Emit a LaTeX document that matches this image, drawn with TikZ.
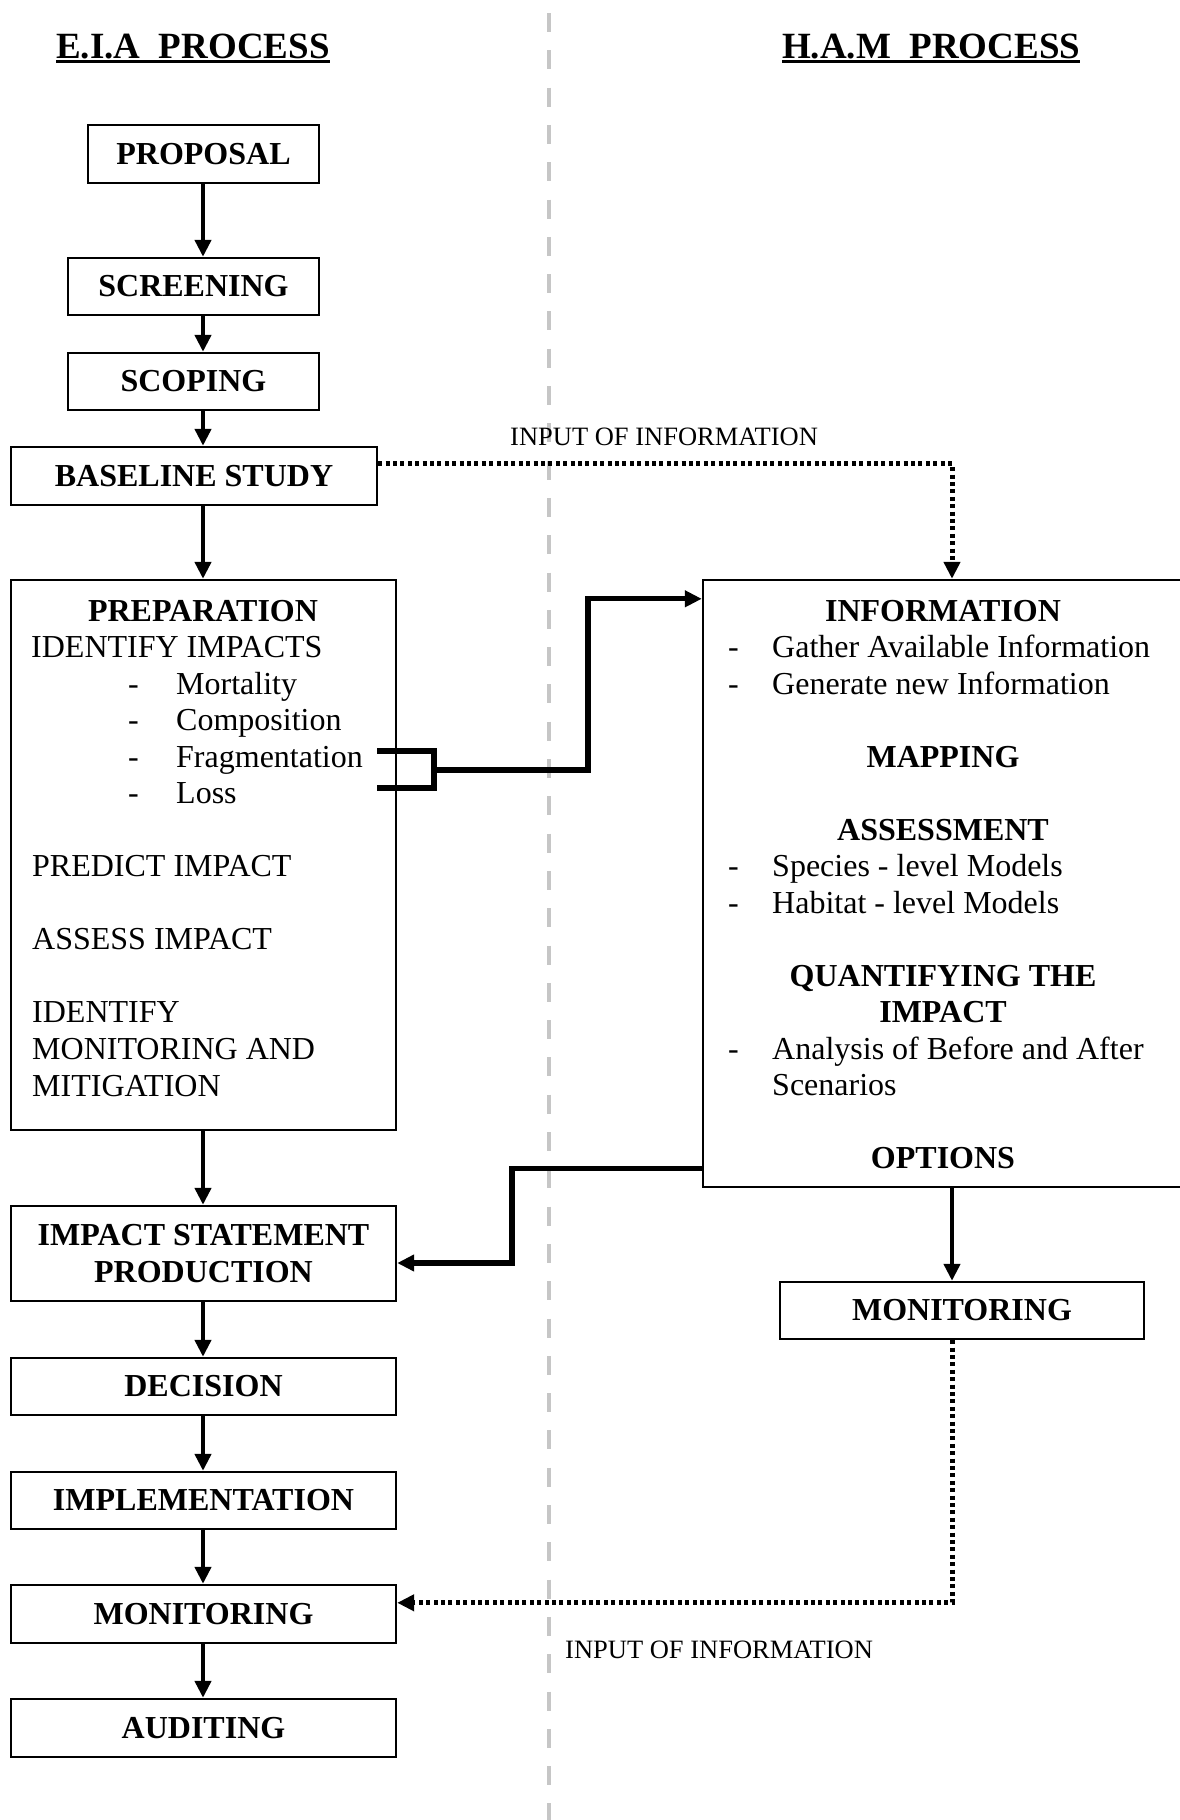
\documentclass[tikz,border=0pt]{standalone}
\usepackage{fontspec}
\setmainfont{Liberation Serif}
\usetikzlibrary{arrows.meta,calc}

\definecolor{divgray}{HTML}{C6C6C6}

\tikzset{
  box/.style={draw, line width=2.4pt, inner sep=0pt, align=center,
    font=\bfseries\fontsize{32}{36.5}\selectfont},
  bigbox/.style={draw, line width=2.4pt, inner sep=0pt},
  arr/.style={line width=4.6pt, -{Triangle[length=17pt,width=16pt]}},
  link/.style={line width=5.2pt, line join=miter},
  linkarr/.style={link, -{Triangle[length=17pt,width=16pt]}},
  dotarr/.style={line width=5pt, dash pattern=on 4pt off 3.4pt,
    -{Triangle[length=17pt,width=16pt]}},
  title/.style={font=\bfseries\fontsize{37}{40}\selectfont, inner sep=0pt, anchor=base west},
  body/.style={font=\fontsize{32}{36.5}\selectfont, inner sep=0pt, anchor=base west},
  head/.style={font=\bfseries\fontsize{32}{36.5}\selectfont, inner sep=0pt, anchor=base},
  note/.style={font=\fontsize{26.5}{30}\selectfont, inner sep=0pt, anchor=base west},
}

\begin{document}
\begin{tikzpicture}[x=1pt,y=-1pt]
  \fill[white] (0,0) rectangle (1179,1820);
  \useasboundingbox (0,0) rectangle (1179,1820);

  % column divider
  \draw[divgray, line width=4.5pt, dash pattern=on 19pt off 18.3pt] (549,13) -- (549,1820);

  % column titles
  \node[title] (eiatitle) at (56,58) {E.I.A\ \ PROCESS};
  \node[title] (hamtitle) at (782,58) {H.A.M\ \ PROCESS};
  \draw[line width=3pt] ($(eiatitle.base west)+(0,3.5)$) -- ($(eiatitle.base east)+(0,3.5)$);
  \draw[line width=3pt] ($(hamtitle.base west)+(0,3.5)$) -- ($(hamtitle.base east)+(0,3.5)$);

  % E.I.A boxes
  \node[box, minimum width=231pt, minimum height=58pt] (proposal)  at (203.5,154)   {PROPOSAL};
  \node[box, minimum width=251pt, minimum height=57pt] (screening) at (193.5,286.5) {SCREENING};
  \node[box, minimum width=251pt, minimum height=57pt] (scoping)   at (193.5,381.5) {SCOPING};
  \node[box, minimum width=366pt, minimum height=58pt] (baseline)  at (194,476)     {BASELINE STUDY};
  \node[bigbox, minimum width=385pt, minimum height=550pt] (prep)  at (203.5,855)   {};
  \node[box, minimum width=385pt, minimum height=95pt] (impact)    at (203.5,1253.5) {IMPACT STATEMENT\\PRODUCTION};
  \node[box, minimum width=385pt, minimum height=57pt] (decision)  at (203.5,1386.5) {DECISION};
  \node[box, minimum width=385pt, minimum height=57pt] (implement) at (203.5,1500.5) {IMPLEMENTATION};
  \node[box, minimum width=385pt, minimum height=58pt] (monL)      at (203.5,1614)   {MONITORING};
  \node[box, minimum width=385pt, minimum height=58pt] (audit)     at (203.5,1728)   {AUDITING};

  % preparation contents
  \node[head] (p0) at (203,621) {PREPARATION};
  \node[body] (p1) at (31,657) {IDENTIFY IMPACTS};
  \node[body] (p2d) at (128,694) {-};   \node[body] (p2) at (176,694) {Mortality};
  \node[body] (p3d) at (128,730.5) {-}; \node[body] (p3) at (176,730.5) {Composition};
  \node[body] (p4d) at (128,767) {-};   \node[body] (p4) at (176,767) {Fragmentation};
  \node[body] (p5d) at (128,803.5) {-}; \node[body] (p5) at (176,803.5) {Loss};
  \node[body] (p6) at (32,876.5) {PREDICT IMPACT};
  \node[body] (p7) at (32,949.5) {ASSESS IMPACT};
  \node[body] (p8) at (32,1022.5) {IDENTIFY};
  \node[body] (p9) at (32,1059.5) {MONITORING AND};
  \node[body] (p10) at (32,1096) {MITIGATION};

  % H.A.M boxes
  \node[bigbox, minimum width=487pt, minimum height=607pt] (info) at (946.5,883.5) {};
  \node[box, minimum width=364pt, minimum height=57pt] (monR) at (962,1310.5) {MONITORING};

  % information box contents
  \node[head] (i0) at (943,621) {INFORMATION};
  \node[body] (i1d) at (728,657) {-};   \node[body] (i1) at (772,657) {Gather Available Information};
  \node[body] (i2d) at (728,694) {-};   \node[body] (i2) at (772,694) {Generate new Information};
  \node[head] (i3) at (943,767) {MAPPING};
  \node[head] (i4) at (943,840) {ASSESSMENT};
  \node[body] (i5d) at (728,876.5) {-}; \node[body] (i5) at (772,876.5) {Species - level Models};
  \node[body] (i6d) at (728,913) {-};   \node[body] (i6) at (772,913) {Habitat - level Models};
  \node[head] (i7) at (943,986) {QUANTIFYING THE};
  \node[head] (i8) at (943,1022.5) {IMPACT};
  \node[body] (i9d) at (728,1059) {-};  \node[body] (i9) at (772,1059) {Analysis of Before and After};
  \node[body] (i10) at (772,1095.5) {Scenarios};
  \node[head] (i11) at (943,1168.5) {OPTIONS};

  % connector labels
  \node[note] (inTop) at (510,445) {INPUT OF INFORMATION};
  \node[note] (inBot) at (565,1658) {INPUT OF INFORMATION};

  % axes of the vertical flows
  \coordinate (ax) at (203,0);
  \coordinate (dx) at (952,0);

  % E.I.A flow
  \draw[arr] (proposal.south -| ax) -- (screening.north -| ax);
  \draw[arr] (screening.south -| ax) -- (scoping.north -| ax);
  \draw[arr] (scoping.south -| ax) -- (baseline.north -| ax);
  \draw[arr] (baseline.south -| ax) -- (prep.north -| ax);
  \draw[arr] (prep.south -| ax) -- (impact.north -| ax);
  \draw[arr] (impact.south -| ax) -- (decision.north -| ax);
  \draw[arr] (decision.south -| ax) -- (implement.north -| ax);
  \draw[arr] (implement.south -| ax) -- (monL.north -| ax);
  \draw[arr] (monL.south -| ax) -- (audit.north -| ax);

  % H.A.M flow
  \draw[arr] (info.south -| dx) -- (monR.north -| dx);

  % information exchanged between the processes
  \coordinate (topy) at ($(baseline.north east)+(0,18)$);
  \draw[dotarr] (topy) -| (info.north -| dx);
  \coordinate (lowy) at ($(monL.north east)+(0,19)$);
  \draw[dotarr] (monR.south -| dx) |- (lowy);

  % impacts bracket feeding the information stage
  \coordinate (b1) at (377,751);
  \coordinate (b2) at (434,751);
  \coordinate (b3) at (434,788);
  \coordinate (b4) at (377,788);
  \coordinate (bm) at (434,770);
  \coordinate (jog2) at (588,680);
  \coordinate (infoin) at ($(info.north west)+(0,20)$);
  \draw[link] (b1) -- (b2) -- (b3) -- (b4);
  \draw[linkarr] (bm) -| (jog2) |- (infoin);

  % options feeding the impact statement
  \coordinate (optout) at ($(info.south west)+(0,-20)$);
  \coordinate (jog1) at (512,1215);
  \coordinate (impin) at ($(impact.east)+(0,9.5)$);
  \draw[linkarr] (optout) -| (jog1) |- (impin);
\end{tikzpicture}
\end{document}
